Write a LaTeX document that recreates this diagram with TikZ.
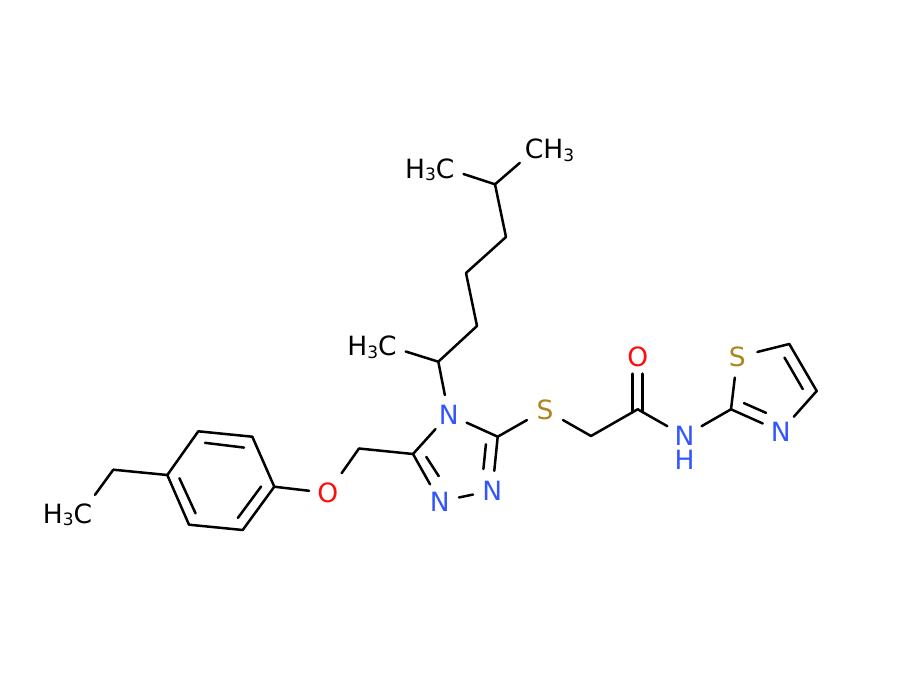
\documentclass[tikz,border=0pt]{standalone}
\usepackage{fontspec}
\setmainfont{DejaVu Sans}
\definecolor{nblue}{HTML}{3355FF}
\definecolor{sgold}{HTML}{AD861F}
\definecolor{ored}{HTML}{FF0D0D}
\newcommand{\lblfont}{\fontsize{26.5}{27}\selectfont}
\newcommand{\subthree}{\raisebox{-2.5pt}{\fontsize{17}{17}\selectfont 3}}
\tikzset{
  bond/.style={line width=2.5pt,line cap=round,line join=round,black},
  inner/.style={bond,shorten >=1pt,shorten <=1pt},
  hole/.style={circle,inner sep=0pt,minimum size=#1},
  natom/.style={hole=39,text=nblue,font=\lblfont},
  satom/.style={hole=41,text=sgold,font=\lblfont},
  oatom/.style={hole=37,text=ored,font=\lblfont},
  hydro/.style={text=nblue,font=\lblfont,inner sep=0pt},
  methyl/.style={text=black,font=\lblfont,inner sep=0pt,anchor=base},
}
\begin{document}
\begin{tikzpicture}[x=1pt,y=-1pt]
\useasboundingbox[fill=white] (0,0) rectangle (900,680);
% carbon skeleton
\coordinate (c1) at (495,184.3);
\coordinate (c2) at (506,237);
\coordinate (c3) at (466,273);
\coordinate (c4) at (477,326);
\coordinate (c5) at (438.3,361.7);
\coordinate (tc3) at (413,454);
\coordinate (tc5) at (497.7,436.7);
\coordinate (ch2o) at (359,448.5);
\coordinate (a1) at (274.3,486.7);
\coordinate (a2) at (252.3,436.7);
\coordinate (a3) at (198.3,431.3);
\coordinate (a4) at (167.3,475);
\coordinate (a5) at (189,524.7);
\coordinate (a6) at (242.7,530);
\coordinate (et) at (113.3,469.7);
\coordinate (ch2s) at (591,436);
\coordinate (co) at (637.7,409.3);
\coordinate (z2) at (731,409.3);
\coordinate (z4) at (789.3,344);
\coordinate (z5) at (816.7,391);
% heteroatoms
\node[natom] (n4) at (448.7,414.5) {N};
\node[natom] (n1) at (492.3,490.5) {N};
\node[natom] (n2) at (439.7,501.5) {N};
\node[satom] (s1) at (545,409.8) {S};
\node[oatom] (o1) at (327.7,493) {O};
\node[oatom] (o2) at (637.7,356.5) {O};
\node[natom] (nh) at (684.5,436) {N};
\node[hydro] (hh) at (684.5,459.5) {H};
\node[satom] (s2) at (737.3,357) {S};
\node[natom] (n3) at (780.7,431.5) {N};
% methyl labels and the points their bonds aim at
\node[methyl] (m1) at (549.5,158.5) {CH\subthree};
\node[methyl] (m2) at (429.7,178) {H\subthree C};
\node[methyl] (m3) at (372,355.5) {H\subthree C};
\node[methyl] (m4) at (67.5,523) {H\subthree C};
\node[hole=45] (m1c) at (537,148) {};
\node[hole=45] (m2c) at (442,167) {};
\node[hole=43] (m3c) at (385,345) {};
\node[hole=47] (m4c) at (81,514) {};
% inner double-bond ends
\coordinate (i1a) at (204,442.7);   \coordinate (i1b) at (245,447.7);
\coordinate (i2a) at (179,477.3);   \coordinate (i2b) at (196,514.3);
\coordinate (i3a) at (261.7,485.7); \coordinate (i3b) at (237.3,518.7);
\coordinate (i4a) at (425.7,456);   \coordinate (i4b) at (439.3,477);
\coordinate (i5a) at (486,443.3);   \coordinate (i5b) at (483.3,470);
\coordinate (i6a) at (784,356.7);   \coordinate (i6b) at (803.3,390);
\coordinate (i7a) at (743,402.7);   \coordinate (i7b) at (767,413.3);
\coordinate (o2l) at (632.7,373.7); \coordinate (o2r) at (642.7,373.7);
\coordinate (col) at (632.7,412.3); \coordinate (cor) at (642.7,412);
% alkyl chain
\draw[bond] (c1) -- (m1c);
\draw[bond] (c1) -- (m2c);
\draw[bond] (c1) -- (c2);
\draw[bond] (c2) -- (c3);
\draw[bond] (c3) -- (c4);
\draw[bond] (c4) -- (c5);
\draw[bond] (c5) -- (m3c);
\draw[bond] (c5) -- (n4);
% triazole
\draw[bond] (n4) -- (tc5);
\draw[bond] (tc5) -- (n1);
\draw[inner] (i5a) -- (i5b);
\draw[bond] (n1) -- (n2);
\draw[bond] (n2) -- (tc3);
\draw[inner] (i4a) -- (i4b);
\draw[bond] (tc3) -- (n4);
% ether and benzene
\draw[bond] (tc3) -- (ch2o);
\draw[bond,shorten >=5.5pt] (ch2o) -- (o1);
\draw[bond] (o1) -- (a1);
\draw[bond] (a1) -- (a2);
\draw[bond] (a2) -- (a3);
\draw[bond] (a3) -- (a4);
\draw[bond] (a4) -- (a5);
\draw[bond] (a5) -- (a6);
\draw[bond] (a6) -- (a1);
\draw[inner] (i1a) -- (i1b);
\draw[inner] (i2a) -- (i2b);
\draw[inner] (i3a) -- (i3b);
\draw[bond] (a4) -- (et);
\draw[bond] (et) -- (m4c);
% thioether and amide
\draw[bond] (tc5) -- (s1);
\draw[bond] (s1) -- (ch2s);
\draw[bond] (ch2s) -- (co);
\draw[bond] (col) -- (o2l);
\draw[bond] (cor) -- (o2r);
\draw[bond] (co) -- (nh);
\draw[bond] (nh) -- (z2);
% thiazole
\draw[bond] (z2) -- (s2);
\draw[bond] (s2) -- (z4);
\draw[bond] (z4) -- (z5);
\draw[inner] (i6a) -- (i6b);
\draw[bond] (z5) -- (n3);
\draw[bond] (n3) -- (z2);
\draw[inner] (i7a) -- (i7b);
\end{tikzpicture}
\end{document}
